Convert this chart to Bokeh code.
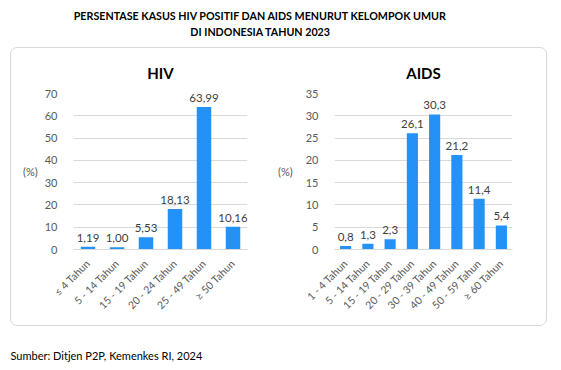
import math
from bokeh.plotting import figure
from bokeh.models import (FactorRange, Range1d, SingleIntervalTicker, Label, LabelSet,
                          ColumnDataSource)
from bokeh.core.properties import value
from bokeh.layouts import row, column
from bokeh.embed import file_html
from bokeh.resources import INLINE

FONT = "Lato"
BAR = "#2391F6"

main_title_1 = "PERSENTASE KASUS HIV POSITIF DAN AIDS MENURUT KELOMPOK UMUR"
main_title_2 = "DI INDONESIA TAHUN 2023"
source_text = "Sumber: Ditjen P2P, Kemenkes RI, 2024"

hiv_cats = ["≤ 4 Tahun", "5 - 14 Tahun", "15 - 19 Tahun", "20 - 24 Tahun",
            "25 - 49 Tahun", "≥ 50 Tahun"]
hiv_vals = [1.19, 1.00, 5.53, 18.13, 63.99, 10.16]
hiv_labels = ["1,19", "1,00", "5,53", "18,13", "63,99", "10,16"]

aids_cats = ["1 - 4 Tahun", "5 - 14 Tahun", "15 - 19 Tahun", "20 - 29 Tahun",
             "30 - 39 Tahun", "40 - 49 Tahun", "50 - 59 Tahun", "≥ 60 Tahun"]
aids_vals = [0.8, 1.3, 2.3, 26.1, 30.3, 21.2, 11.4, 5.4]
aids_labels = ["0,8", "1,3", "2,3", "26,1", "30,3", "21,2", "11,4", "5,4"]


def bar_chart(title, cats, vals, labels, ymax, interval, width, height,
              bl, br, bt, bb, label_standoff):
    p = figure(width=width, height=height, x_range=FactorRange(*cats),
               y_range=Range1d(0, ymax), output_backend="svg",
               toolbar_location=None, title=title,
               min_border_left=bl, min_border_right=br,
               min_border_top=bt, min_border_bottom=bb)
    p.title.align = "center"
    p.title.text_font = FONT
    p.title.text_font_size = "15px"
    p.title.text_font_style = "bold"
    p.title.text_color = "#000000"
    p.title.standoff = 23
    p.outline_line_color = None
    p.background_fill_color = None
    p.border_fill_color = None
    src = ColumnDataSource(dict(cat=cats, val=vals, lab=labels))
    p.vbar(x="cat", top="val", width=0.5, source=src, color=BAR, line_color=None)
    p.add_layout(LabelSet(x="cat", y="val", text="lab", source=src,
                          text_align="center", text_baseline="bottom", y_offset=5,
                          text_font=value(FONT), text_font_size=value("11.5px"),
                          text_color=value("#404040")))
    p.xgrid.grid_line_color = None
    p.ygrid.grid_line_color = "#d9d9d9"
    p.yaxis.ticker = SingleIntervalTicker(interval=interval)
    p.yaxis.axis_line_color = None
    p.yaxis.major_tick_line_color = None
    p.yaxis.minor_tick_line_color = None
    p.yaxis.major_label_standoff = 10
    p.yaxis.major_label_text_font = FONT
    p.yaxis.major_label_text_font_size = "11px"
    p.yaxis.major_label_text_color = "#595959"
    p.yaxis.axis_label = "(%)"
    p.yaxis.axis_label_standoff = label_standoff
    p.yaxis.axis_label_text_font = FONT
    p.yaxis.axis_label_text_font_size = "11px"
    p.yaxis.axis_label_text_font_style = "normal"
    p.yaxis.axis_label_text_color = "#595959"
    if "axis_label_orientation" in p.yaxis[0].properties():
        p.yaxis.axis_label_orientation = "horizontal"
    p.xaxis.axis_line_color = "#d9d9d9"
    p.xaxis.major_tick_line_color = None
    p.xaxis.minor_tick_line_color = None
    p.xaxis.major_label_orientation = math.pi / 4
    p.xaxis.major_label_standoff = 6
    p.xaxis.major_label_text_font = FONT
    p.xaxis.major_label_text_font_size = "10.5px"
    p.xaxis.major_label_text_color = "#595959"
    return p


hiv = bar_chart("HIV", hiv_cats, hiv_vals, hiv_labels, 70, 10,
                264, 277, 62, 28, 45, 76, 4)
aids = bar_chart("AIDS", aids_cats, aids_vals, aids_labels, 35, 5,
                 271, 277, 57, 34, 45, 76, 10)


def text_fig(w, h):
    f = figure(width=w, height=h, x_range=Range1d(0, w), y_range=Range1d(0, h),
               output_backend="svg", toolbar_location=None,
               min_border=0, min_border_left=0, min_border_right=0,
               min_border_top=0, min_border_bottom=0)
    f.axis.visible = False
    f.grid.visible = False
    f.outline_line_color = None
    return f


top = text_fig(545, 39)
for yy, t in [(32.5, main_title_1), (16, main_title_2)]:
    top.add_layout(Label(x=252, y=yy, text=t, text_align="center",
                         text_baseline="middle", text_font=FONT,
                         text_font_size="10.7px", text_font_style="bold",
                         text_color="#000000"))

bottom = text_fig(545, 36)
bottom.add_layout(Label(x=2, y=7, text=source_text, text_align="left",
                        text_baseline="middle", text_font=FONT,
                        text_font_size="11px", text_color="#000000"))

charts = row(hiv, aids, margin=(0, 0, 0, 2),
             styles={"border": "1px solid #d9d9d9", "border-radius": "7px"})
layout = column(top, charts, bottom, margin=(8, 0, 0, 8))

open("out.html", "w").write(file_html(layout, INLINE))
